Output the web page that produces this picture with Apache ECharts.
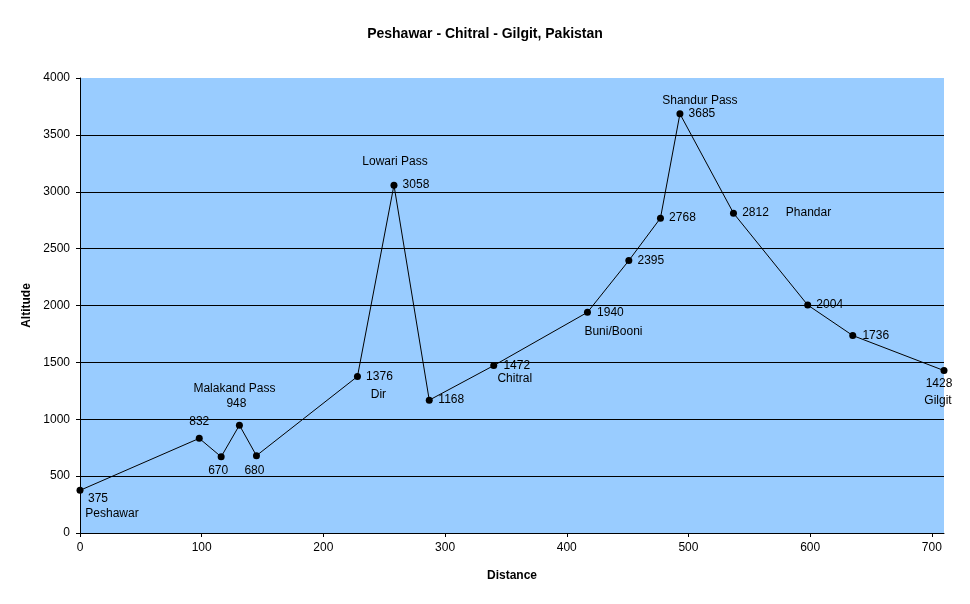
<!DOCTYPE html>
<html>
<head>
<meta charset="utf-8">
<script src="https://cdn.jsdelivr.net/npm/echarts@6/dist/echarts.min.js"></script>
<style>
  html, body { margin: 0; padding: 0; background: #fff; }
  #chart { width: 970px; height: 604px; }
</style>
</head>
<body>
<div id="chart"></div>
<script>
// route data
const distance = [0, 98, 116, 131, 145, 228, 258, 287, 340, 417, 451, 477, 493, 537, 598, 635, 710];
const altitude = [375, 832, 670, 948, 680, 1376, 3058, 1168, 1472, 1940, 2395, 2768, 3685, 2812, 2004, 1736, 1428];
const placeNames = ["Peshawar", "", "", "Malakand Pass", "", "Dir", "Lowari Pass", "", "Chitral", "Buni/Booni", "", "", "Shandur Pass", "Phandar", "", "", "Gilgit"];
const xTicks = [0, 100, 200, 300, 400, 500, 600, 700];

const font = "'Liberation Sans', Arial, sans-serif";

// where each label sits, relative to its point (px)
const valueOffsets = [
  [18, 8], [0, -17], [-3, 14], [-3, -21], [-2, 15], [22, 0], [22, 0], [22, 0],
  [23, 0], [23, 0], [22, 0], [22, 0], [22, 0], [22, 0], [22, 0], [23, 0], [-5, 13]
];
const nameOffsets = [
  [32, 23], null, null, [-5, -36], null, [21, 18], [1, -23], null,
  [21, 13], [26, 19], null, null, [20, -13], [75, 0], null, null, [-6, 30]
];

let valueData = distance.map((d, i) => ({
  value: [d, altitude[i]],
  label: { offset: valueOffsets[i] }
}));

let nameData = [];
distance.forEach((d, i) => {
  if (placeNames[i]) {
    nameData.push({
      value: [d, altitude[i]],
      name: placeNames[i],
      label: { offset: nameOffsets[i] }
    });
  }
});

let labelStyle = {
  show: true,
  position: "inside",
  fontFamily: font,
  fontSize: 12,
  color: "#000",
  textBorderWidth: 0,
  textBorderColor: "transparent"
};

let myChart = echarts.init(document.getElementById("chart"));
let option = {
  animation: false,
  title: {
    text: "Peshawar - Chitral - Gilgit, Pakistan",
    left: "center",
    top: 22,
    textStyle: { fontFamily: font, fontSize: 14, fontWeight: "bold", color: "#000" }
  },
  grid: {
    left: 80,
    right: 26,
    top: 78,
    bottom: 71,
    show: true,
    backgroundColor: "#99CCFF",
    borderWidth: 0
  },
  xAxis: {
    type: "value",
    min: 0,
    max: 710,
    interval: 100,
    name: "Distance",
    nameLocation: "middle",
    nameGap: 37,
    nameTextStyle: { fontFamily: font, fontSize: 12, fontWeight: "bold", color: "#000" },
    axisLine: { show: true, lineStyle: { color: "#000", width: 1 } },
    axisTick: { show: true, length: 4, lineStyle: { color: "#000" }, customValues: xTicks },
    axisLabel: { fontFamily: font, fontSize: 12, color: "#000", margin: 9, customValues: xTicks },
    splitLine: { show: false }
  },
  yAxis: {
    type: "value",
    min: 0,
    max: 4000,
    interval: 500,
    name: "Altitude",
    nameLocation: "middle",
    nameGap: 42,
    nameTextStyle: { fontFamily: font, fontSize: 12, fontWeight: "bold", color: "#000" },
    axisLine: { show: true, lineStyle: { color: "#000", width: 1 } },
    axisTick: { show: true, length: 4, lineStyle: { color: "#000" } },
    axisLabel: { fontFamily: font, fontSize: 12, color: "#000", margin: 10, formatter: (v) => String(v) },
    splitLine: { show: true, showMaxLine: false, lineStyle: { color: "#000", width: 1 } }
  },
  series: [
    {
      name: "Altitude",
      type: "line",
      data: valueData,
      symbol: "circle",
      symbolSize: 7,
      itemStyle: { color: "#000" },
      lineStyle: { color: "#000", width: 1 },
      label: Object.assign({}, labelStyle, { formatter: (p) => p.value[1] }),
      emphasis: { disabled: true },
      z: 3
    },
    {
      name: "Places",
      type: "scatter",
      data: nameData,
      symbolSize: 7,
      itemStyle: { color: "rgba(0,0,0,0)", opacity: 1 },
      label: Object.assign({}, labelStyle, { formatter: (p) => p.name }),
      silent: true,
      emphasis: { disabled: true },
      z: 4
    }
  ]
};
myChart.setOption(option);
</script>
</body>
</html>
